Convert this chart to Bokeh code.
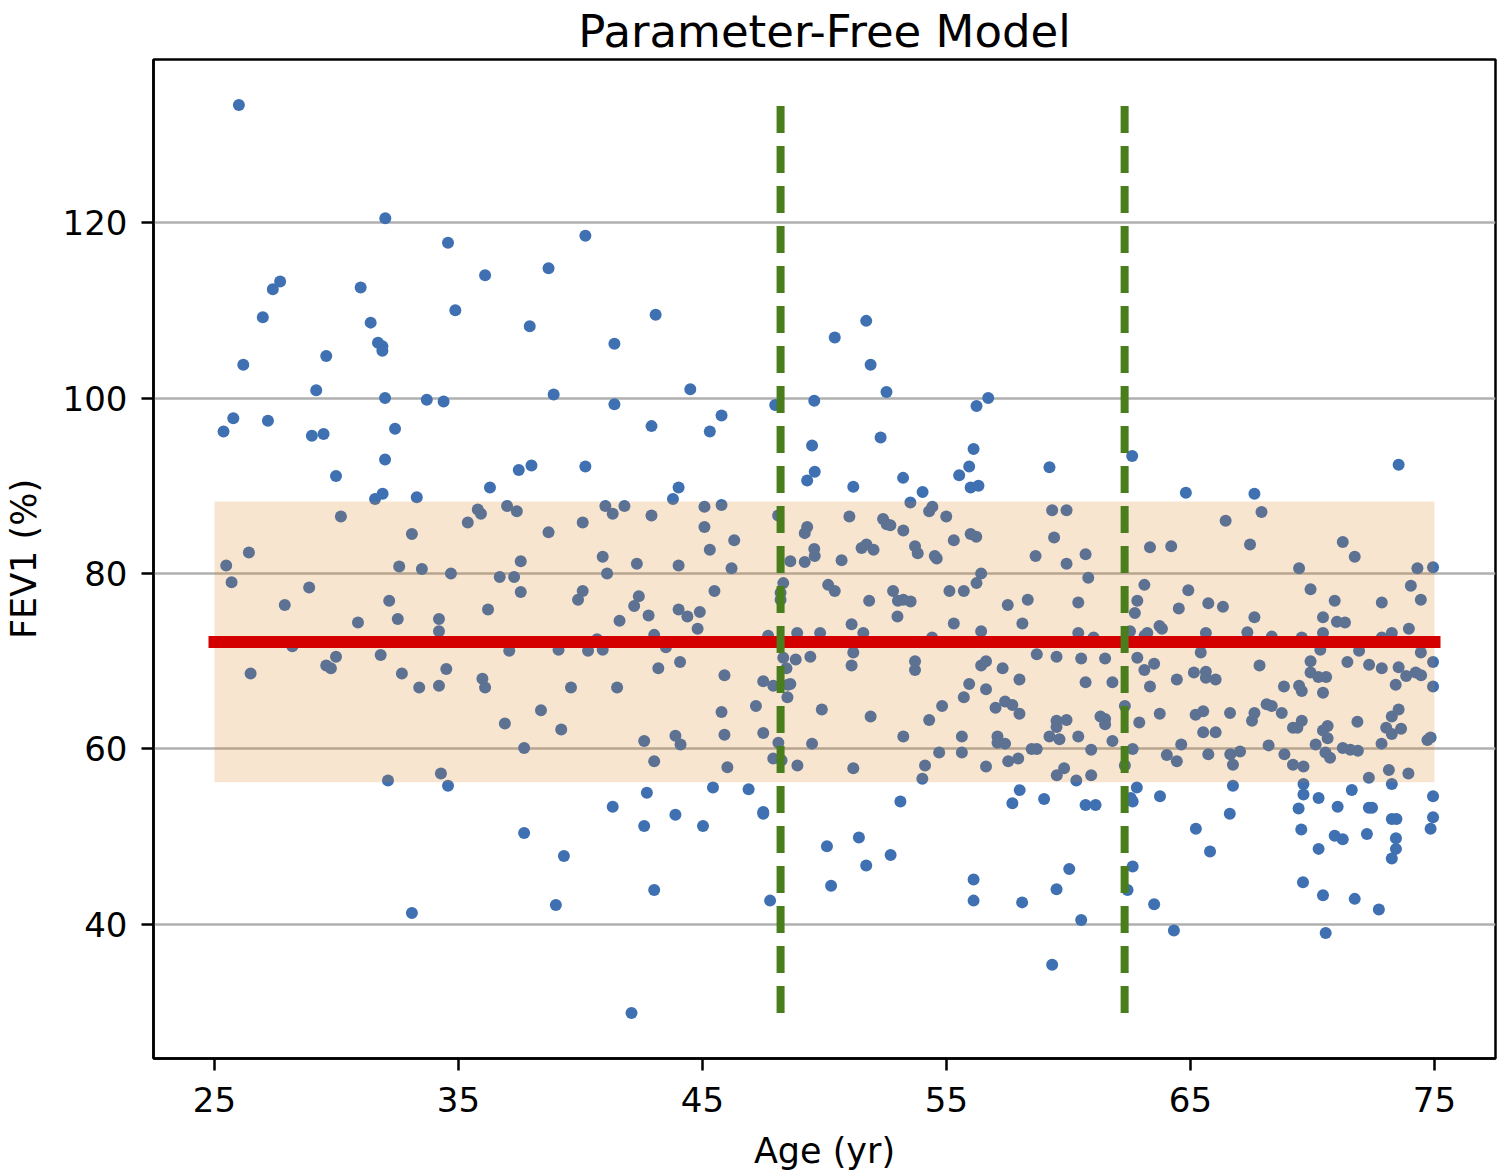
from bokeh.plotting import figure
from bokeh.models import Range1d, FixedTicker
from bokeh.embed import file_html
from bokeh.resources import INLINE

# ---- data ----
AGE = [
    26.0, 32.0, 34.57, 36.09, 27.69, 27.39, 30.99, 34.87, 26.98, 31.40, 31.70, 31.88, 31.88, 29.58, 26.18, 29.17, 31.99, 33.70, 34.39,
    40.20, 38.69, 37.92, 43.08, 41.39, 44.50, 38.90, 41.39, 47.98, 49.58,
    50.42, 51.71, 51.89, 52.54, 56.71, 56.23,
    25.37, 25.77, 27.19, 28.99, 29.47, 32.40, 31.99, 29.98, 37.47, 36.29, 31.89, 31.58, 33.29, 30.18, 36.99, 37.39, 35.79, 35.92, 35.38, 33.09,
    26.41, 25.48, 25.70, 32.57, 33.50, 34.69, 36.69, 37.28, 37.55, 37.55, 28.88, 27.88, 32.16, 32.51, 36.21, 34.20, 34.20, 30.88, 28.19, 37.08,
    26.48, 29.98, 29.58, 29.77, 31.81, 32.68, 34.50, 33.39, 34.20, 35.98, 36.09, 36.90,
    32.11, 34.28, 34.57, 37.69, 33.09, 37.69,
    42.91, 45.78, 45.30, 49.49, 49.60, 49.29, 37.99, 40.20, 44.02, 43.79, 41.02, 41.32, 41.80, 40.09, 42.91, 45.08, 45.78, 45.08, 38.69, 46.30,
    45.30, 48.10, 49.29, 49.19, 49.58, 49.60, 48.60, 49.19, 40.91, 42.31, 44.02, 46.19, 41.09, 40.09, 39.90, 42.39, 42.20, 45.49, 48.31, 48.20,
    48.20, 50.15, 44.02, 44.38, 44.89, 42.79, 41.60, 44.80, 43.02, 40.68, 47.69, 48.88, 49.82, 39.10, 40.31, 40.91, 43.50, 48.31, 48.82, 49.42,
    44.08, 43.19, 48.44, 45.90, 47.49, 47.90, 48.50, 48.60, 48.48, 39.61, 41.50, 38.38, 45.78, 47.19, 49.89,
    39.21, 42.61, 43.89, 44.10, 45.90, 47.49, 43.02, 46.02, 48.11, 47.90, 48.24, 48.89, 49.49, 42.72, 45.43, 46.89, 41.32, 43.89, 42.61, 45.02,
    47.49, 47.49, 39.32, 50.10, 50.27, 43.02, 47.77, 38.99, 42.09,
    52.30, 56.11, 55.93, 55.52, 55.99, 56.31, 53.22, 51.18, 54.02, 53.52, 59.22, 62.61, 54.29, 54.42, 51.02, 52.40, 52.55, 52.70, 53.23, 54.99,
    55.30, 55.99, 56.22, 59.33, 59.92, 59.41, 51.52, 51.72, 52.01, 53.71, 53.82, 54.52, 54.60, 50.70, 58.65, 60.70, 59.92, 56.42, 56.23, 60.81,
    50.42, 52.81, 53.01, 53.23, 53.53, 51.83, 55.12, 55.71, 57.51, 58.33, 60.40, 52.99, 62.82, 62.72, 51.11, 51.59, 55.30, 56.42, 58.11, 60.40,
    61.03, 62.52, 54.41, 51.18, 51.11, 53.71, 53.71, 56.42, 56.62, 57.30, 58.70, 59.51, 60.52, 61.50, 62.82, 57.99, 60.70, 61.80, 55.93, 56.62,
    55.71, 57.40, 57.70, 57.01, 54.82, 57.99, 51.89, 54.29, 59.51, 59.92, 61.31, 61.50, 62.31,
    61.50, 59.51, 62.90, 53.23, 55.63, 57.09, 57.09, 57.40, 59.22, 59.63, 60.40, 61.80, 54.70, 55.63, 58.49, 58.70, 60.93, 62.63, 51.18, 54.12,
    54.01, 56.62, 57.53, 57.94, 59.82, 59.52, 60.32, 60.93, 62.31, 58.00, 53.11, 57.70, 59.00, 60.70, 61.11, 62.80, 62.55, 62.63, 51.41, 51.71,
    52.71, 56.11, 56.11, 58.10, 59.51, 60.03, 60.52, 62.63, 62.42, 59.33,
    64.81, 67.62, 73.53, 67.91, 66.44, 63.34, 64.21, 67.44, 71.24, 71.73, 69.45, 74.30, 74.94, 63.11, 64.91, 69.92, 74.03, 64.52, 65.73, 66.33,
    70.91, 72.84, 74.44, 67.62, 70.43, 71.00, 71.33, 63.12, 63.23, 63.73, 63.83, 65.63, 67.33, 68.33, 69.56, 70.43, 72.84, 73.25, 73.95, 70.32,
    71.91, 74.44, 65.42, 63.51, 63.11, 63.34, 64.44, 65.14, 65.63, 65.63, 66.03, 67.83, 68.83, 69.45, 69.56, 69.92, 69.92, 70.24, 70.56, 70.43,
    71.43, 72.32, 72.84, 73.53, 73.84, 74.23, 74.45, 74.94, 74.94, 73.41, 68.12, 68.33, 68.74, 66.62, 67.62, 65.21, 65.52, 63.74, 73.25, 73.53,
    67.52, 65.52, 66.03, 64.62, 64.03, 64.44, 65.73, 66.63, 66.74, 67.03, 68.20, 68.85, 69.20, 69.38, 69.56, 69.20, 69.63, 70.13, 70.43, 70.62,
    70.62, 70.53, 70.72, 71.24, 71.55, 71.86, 71.84, 72.83, 73.02, 73.25, 73.63, 74.71, 74.84, 72.31, 73.13, 73.93, 63.75, 66.74, 69.63, 69.63,
    69.43, 69.54, 70.25, 71.03, 71.61, 72.31, 72.44, 73.25, 73.44, 73.25, 74.94, 74.94, 74.84, 66.61, 65.22, 65.80, 70.91, 71.24, 72.23, 73.42,
    73.42, 73.25, 70.25, 69.61, 70.43, 71.73, 72.72, 63.51, 64.32, 70.54,
]
FEV = [
    133.4, 120.5, 117.7, 114.0, 113.3, 112.4, 112.6, 110.0, 109.2, 108.6, 106.3, 105.9, 105.4, 104.8, 103.8, 100.9, 100.0, 99.8, 99.6,
    118.5, 114.8, 108.2, 109.5, 106.2, 101.0, 100.4, 99.3, 99.2, 99.7,
    106.9, 108.8, 103.8, 100.7, 100.0, 99.1,
    96.2, 97.7, 97.4, 95.7, 95.9, 96.5, 93.0, 91.1, 91.8, 89.8, 89.1, 88.5, 88.7, 86.5, 87.7, 87.1, 87.3, 86.8, 85.8, 84.5,
    82.4, 80.9, 79.0, 80.8, 80.5, 80.0, 79.6, 79.6, 81.4, 77.9, 78.4, 76.4, 76.9, 74.8, 75.9, 74.8, 73.4, 74.4, 71.7, 71.2,
    68.6, 70.5, 69.5, 69.2, 70.7, 68.6, 69.1, 67.0, 67.2, 68.0, 67.0, 62.9,
    56.4, 57.2, 55.8, 50.4, 41.3, 60.1,
    96.8, 98.0, 96.2, 94.6, 91.6, 90.6, 92.3, 92.2, 89.8, 88.5, 87.7, 86.8, 87.7, 85.8, 86.6, 87.6, 87.8, 85.3, 84.7, 83.8,
    82.7, 86.6, 85.3, 84.6, 82.8, 82.0, 81.4, 81.3, 81.9, 81.1, 80.9, 80.6, 80.0, 78.0, 77.0, 77.4, 76.3, 78.0, 78.9, 77.8,
    77.0, 78.7, 75.9, 75.1, 75.6, 75.2, 74.6, 73.7, 73.0, 72.5, 72.9, 73.2, 73.2, 71.3, 71.2, 71.3, 71.6, 70.4, 70.2, 70.5,
    69.9, 69.2, 69.2, 68.4, 67.7, 67.2, 67.3, 67.4, 65.9, 67.0, 67.0, 64.4, 64.2, 64.9, 64.5,
    62.2, 60.9, 61.5, 60.5, 61.6, 61.8, 58.6, 57.9, 60.7, 58.9, 58.7, 58.1, 60.6, 55.0, 55.6, 55.4, 53.4, 52.5, 51.2, 51.2,
    52.8, 52.6, 47.8, 48.9, 44.4, 43.9, 42.7, 42.2, 29.9,
    95.5, 94.2, 92.2, 91.2, 89.8, 90.0, 90.9, 89.9, 89.3, 88.1, 92.1, 93.4, 87.1, 87.6, 86.5, 86.2, 85.6, 85.5, 84.9, 86.5,
    83.8, 84.5, 84.2, 87.2, 87.2, 84.1, 82.9, 83.3, 82.7, 83.1, 82.3, 82.0, 81.7, 81.5, 82.0, 82.2, 81.1, 80.0, 78.9, 79.5,
    78.0, 78.0, 76.9, 77.0, 76.8, 76.9, 78.0, 78.0, 76.4, 77.0, 76.7, 75.1, 76.9, 75.5, 74.2, 73.2, 74.3, 73.4, 74.3, 73.2,
    72.7, 73.4, 72.7, 71.0, 69.5, 70.0, 69.0, 69.5, 70.0, 69.2, 70.8, 70.5, 70.3, 70.3, 70.4, 67.9, 67.6, 67.6, 67.4, 66.8,
    65.9, 65.4, 65.0, 64.7, 64.9, 64.0, 63.7, 63.3, 63.2, 63.3, 63.7, 63.4, 64.9,
    62.8, 62.5, 63.0, 61.4, 61.4, 61.4, 60.7, 60.6, 61.4, 61.1, 61.4, 60.9, 59.6, 59.6, 60.0, 60.0, 59.9, 60.0, 57.8, 58.1,
    56.6, 58.0, 58.6, 58.9, 57.8, 57.0, 56.4, 57.0, 58.1, 55.3, 54.0, 53.8, 54.3, 53.6, 53.6, 55.6, 54.4, 54.0, 49.9, 46.7,
    47.9, 45.1, 42.7, 42.5, 44.0, 46.3, 40.5, 46.6, 43.9, 35.4,
    89.2, 89.1, 92.4, 87.0, 86.0, 83.0, 83.1, 83.3, 83.6, 81.9, 80.6, 80.6, 80.7, 78.7, 78.1, 78.2, 78.6, 76.0, 76.6, 76.2,
    76.9, 76.7, 77.0, 75.0, 75.0, 74.5, 74.4, 72.9, 73.2, 74.0, 73.7, 73.2, 73.3, 72.8, 72.7, 73.2, 72.7, 73.2, 73.7, 71.3,
    71.2, 71.0, 71.0, 69.7, 69.0, 67.1, 67.9, 68.7, 68.8, 68.1, 67.9, 69.5, 67.1, 67.2, 66.6, 70.0, 68.7, 68.2, 68.2, 66.4,
    69.9, 69.6, 69.2, 69.3, 68.3, 68.7, 68.4, 69.9, 67.1, 67.3, 65.1, 64.9, 64.1, 64.1, 64.1, 63.9, 64.3, 64.0, 63.7, 64.5,
    63.2, 61.9, 61.9, 60.5, 59.3, 58.6, 59.4, 59.4, 58.2, 59.7, 60.4, 59.4, 62.4, 62.4, 63.2, 58.2, 58.0, 60.5, 62.1, 62.6,
    61.2, 59.6, 59.0, 60.1, 59.9, 59.8, 63.1, 60.6, 62.4, 61.7, 62.3, 61.0, 61.3, 56.7, 57.6, 57.2, 54.6, 55.8, 56.0, 54.8,
    53.2, 50.8, 54.4, 53.4, 55.3, 53.3, 53.3, 52.0, 52.0, 56.0, 54.6, 52.2, 50.9, 52.6, 50.9, 48.3, 50.1, 49.7, 50.3, 49.8,
    48.6, 47.5, 48.6, 44.8, 43.3, 42.9, 41.7, 42.3, 39.3, 39.0,
]

AGE_SPAN = [25, 75]          # age range covered by the model
FEV_MEAN = 72.2              # model prediction (red line)
FEV_SD = 16.0                # half-width of shaded band
AGE_BREAKS = [48.2, 62.3]    # dashed green lines

X_TICKS = [25, 35, 45, 55, 65, 75]
Y_TICKS = [40, 60, 80, 100, 120]
X_LIM = (22.5, 77.5)
Y_LIM = (24.7, 138.6)

TITLE = "Parameter-Free Model"
FONT = "DejaVu Sans"

p = figure(
    width=1500, height=1174,
    min_border_left=152, min_border_right=5, min_border_top=58, min_border_bottom=116,
    x_range=Range1d(*X_LIM), y_range=Range1d(*Y_LIM),
    output_backend="svg", toolbar_location=None,
    title=TITLE,
    background_fill_color="white", border_fill_color="white",
)

p.title.align = "center"
p.title.text_font = FONT
p.title.text_font_size = "45px"
p.title.text_font_style = "normal"
p.title.text_color = "black"
p.title.standoff = 4

p.outline_line_color = "black"
p.outline_line_width = 2.5
p.outline_line_alpha = 1.0

p.xgrid.visible = False
p.ygrid.grid_line_color = "#b0b0b0"
p.ygrid.grid_line_width = 2.5

p.xaxis.ticker = FixedTicker(ticks=X_TICKS)
p.yaxis.ticker = FixedTicker(ticks=Y_TICKS)
p.xaxis.axis_label = "Age (yr)"
p.yaxis.axis_label = "FEV1 (%)"

for ax in (p.xaxis[0], p.yaxis[0]):
    ax.axis_line_color = "black"
    ax.axis_line_width = 2.5
    ax.major_tick_line_color = "black"
    ax.major_tick_line_width = 2.5
    ax.major_tick_out = 12
    ax.major_tick_in = 0
    ax.minor_tick_line_color = None
    ax.major_label_text_font = FONT
    ax.major_label_text_font_size = "34px"
    ax.major_label_text_color = "black"
    ax.axis_label_text_font = FONT
    ax.axis_label_text_font_size = "35px"
    ax.axis_label_text_font_style = "normal"
    ax.axis_label_text_color = "black"

p.xaxis[0].major_label_standoff = 16
p.xaxis[0].axis_label_standoff = 16
p.yaxis[0].major_label_standoff = 14
p.yaxis[0].axis_label_standoff = 16

# points
p.scatter(AGE, FEV, size=12, fill_color="#3e70b2", line_color=None)

# shaded band (drawn over the points, translucent)
p.quad(left=AGE_SPAN[0], right=AGE_SPAN[1], bottom=FEV_MEAN - FEV_SD, top=FEV_MEAN + FEV_SD,
       fill_color="#dc7d14", fill_alpha=0.2, line_color=None)

# model line
p.line(AGE_SPAN, [FEV_MEAN, FEV_MEAN], line_width=12, line_color="#d40000", line_cap="square")

# dashed breakpoints, spanning the data range
ymin, ymax = min(FEV), max(FEV)
p.segment(x0=AGE_BREAKS, y0=[ymin] * len(AGE_BREAKS), x1=AGE_BREAKS, y1=[ymax] * len(AGE_BREAKS),
          line_width=8, line_color="#4a7d1c", line_dash="27 13")

open("out.html", "w").write(file_html(p, INLINE))
